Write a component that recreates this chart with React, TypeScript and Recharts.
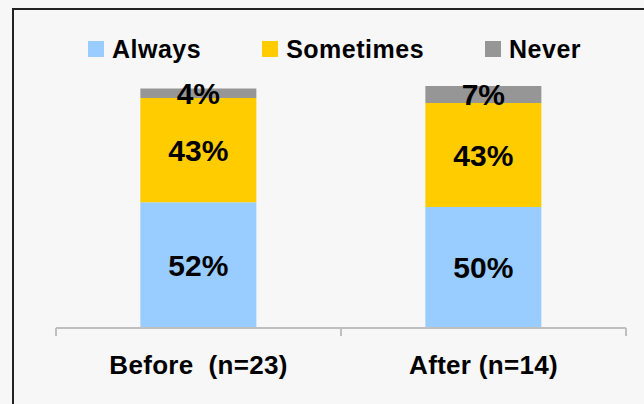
import React from 'react';
import { BarChart, Bar, XAxis, YAxis, LabelList } from 'recharts';

const categories = ['Before  (n=23)', 'After (n=14)'];
const always = [52, 50];
const sometimes = [43, 43];
const never = [4, 7];

const seriesNames = ['Always', 'Sometimes', 'Never'];
const seriesColors = ['#99CCFF', '#FFCC00', '#969696'];

const data = categories.map((name, i) => ({
  name,
  always: always[i],
  sometimes: sometimes[i],
  never: never[i],
}));
const seriesKeys = ['always', 'sometimes', 'never'];

const FONT = '"Liberation Sans", Arial, sans-serif';

const CategoryTick = (props: any) => {
  const { x, y, payload, index, width, visibleTicksCount } = props;
  const half = width / visibleTicksCount / 2;
  return (
    <g>
      <line x1={x - half} x2={x - half} y1={y} y2={y + 8} stroke="#BFBFBF" strokeWidth={2} />
      {index === visibleTicksCount - 1 && (
        <line x1={x + half} x2={x + half} y1={y} y2={y + 8} stroke="#BFBFBF" strokeWidth={2} />
      )}
      <text
        x={x}
        y={y + 46}
        textAnchor="middle"
        fontFamily={FONT}
        fontWeight="bold"
        fontSize={26}
        letterSpacing={0.3}
        fill="#000"
        style={{ whiteSpace: 'pre' }}
      >
        {payload.value}
      </text>
    </g>
  );
};

const App = () => {
  return (
    <div
      style={{
        position: 'fixed',
        left: 0,
        top: 0,
        width: 644,
        height: 404,
        overflow: 'hidden',
        background: '#F7F7F7',
        fontFamily: FONT,
      }}
    >
      <div
        style={{
          position: 'absolute',
          left: 12,
          top: 8,
          width: 700,
          height: 500,
          border: '2px solid #222',
          boxSizing: 'border-box',
        }}
      />
      <div
        style={{
          position: 'absolute',
          left: 88,
          top: 33,
          height: 32,
          display: 'flex',
          alignItems: 'center',
          gap: 61,
        }}
      >
        {seriesNames.map((s, i) => (
          <div key={s} style={{ display: 'flex', alignItems: 'center' }}>
            <span style={{ width: 16, height: 16, background: seriesColors[i], marginRight: 8 }} />
            <span style={{ fontSize: 25, fontWeight: 'bold', letterSpacing: 0.5, color: '#000' }}>{s}</span>
          </div>
        ))}
      </div>
      <div style={{ position: 'absolute', left: 0, top: 0 }}>
        <BarChart
          width={644}
          height={404}
          data={data}
          margin={{ top: 86, right: 18, left: 56, bottom: 36 }}
          barCategoryGap="29.6%"
        >
          <XAxis
            dataKey="name"
            height={40}
            axisLine={{ stroke: '#BFBFBF', strokeWidth: 2 }}
            tickLine={false}
            tickSize={0}
            tickMargin={0}
            tick={<CategoryTick />}
            interval={0}
          />
          <YAxis hide domain={[0, 100]} />
          {seriesKeys.map((k, i) => (
            <Bar key={k} dataKey={k} stackId="a" fill={seriesColors[i]} isAnimationActive={false}>
              <LabelList
                dataKey={k}
                position="center"
                formatter={(v: any) => `${v}%`}
                fill="#000"
                fontSize={30}
                fontWeight="bold"
                fontFamily={FONT}
              />
            </Bar>
          ))}
        </BarChart>
      </div>
    </div>
  );
};

export default App;
